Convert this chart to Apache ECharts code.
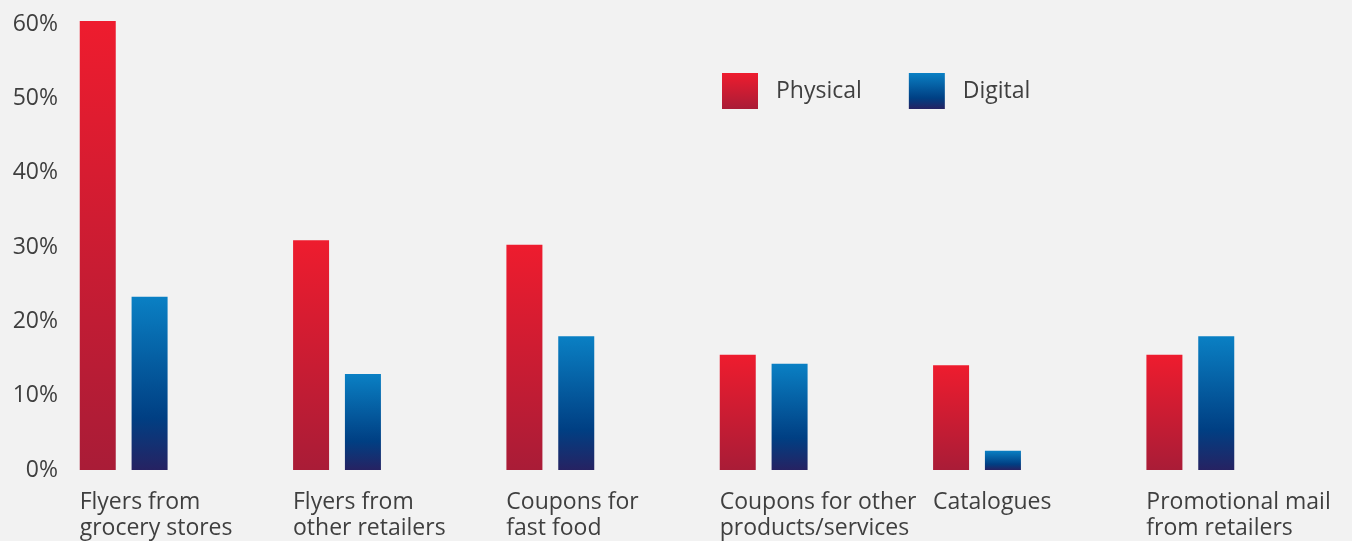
<!DOCTYPE html>
<html>
<head>
<meta charset="utf-8">
<script src="https://cdn.jsdelivr.net/npm/echarts@6/dist/echarts.min.js"></script>
<style>
  html, body { margin: 0; padding: 0; background: #f2f2f2; }
  #main { width: 1352px; height: 541px; }
</style>
</head>
<body>
<div id="main"></div>
<script>
var categories = ['Flyers from\ngrocery stores', 'Flyers from\nother retailers', 'Coupons for\nfast food',
    'Coupons for other\nproducts/services', 'Catalogues', 'Promotional mail\nfrom retailers'];
var physical = [60.4, 30.9, 30.3, 15.5, 14.1, 15.5];
var digital = [23.3, 12.9, 18.0, 14.3, 2.6, 18.0];

var chart = echarts.init(document.getElementById('main'));
var font = 'Open Sans';

var redGrad = new echarts.graphic.LinearGradient(0, 0, 0, 1, [
    {offset: 0, color: '#ee1c2e'},
    {offset: 1, color: '#a91c37'}
]);
var blueGrad = new echarts.graphic.LinearGradient(0, 0, 0, 1, [
    {offset: 0, color: '#0a80c4'},
    {offset: 0.7, color: '#003f83'},
    {offset: 1, color: '#262262'}
]);

chart.setOption({
    backgroundColor: '#f2f2f2',
    animation: false,
    grid: {left: 17, right: 55, top: 24, bottom: 71},
    legend: {
        left: 717, top: 68,
        itemWidth: 36, itemHeight: 36, itemGap: 47,
        icon: 'rect',
        textStyle: {fontFamily: font, fontSize: 23, color: '#3f3f3f', padding: [6, 0, 0, 13]},
        data: ['Physical', 'Digital']
    },
    xAxis: {
        type: 'category',
        data: categories,
        axisLine: {show: false},
        axisTick: {show: false},
        axisLabel: {
            interval: 0,
            align: 'left',
            verticalAlign: 'top',
            margin: 19,
            padding: [0, 0, 0, -44],
            lineHeight: 26,
            fontFamily: font, fontSize: 23, color: '#3f3f3f'
        }
    },
    yAxis: {
        type: 'value',
        min: 0, max: 60, interval: 10,
        splitLine: {show: false},
        axisLine: {show: false},
        axisTick: {show: false},
        axisLabel: {
            margin: -41,
            formatter: '{value}%',
            fontFamily: font, fontSize: 23, color: '#3f3f3f'
        }
    },
    series: [
        {name: 'Physical', type: 'bar', data: physical, barWidth: 36, barGap: '44%', clip: false,
         itemStyle: {color: redGrad}},
        {name: 'Digital', type: 'bar', data: digital, barWidth: 36, clip: false,
         itemStyle: {color: blueGrad}}
    ]
});
</script>
</body>
</html>
